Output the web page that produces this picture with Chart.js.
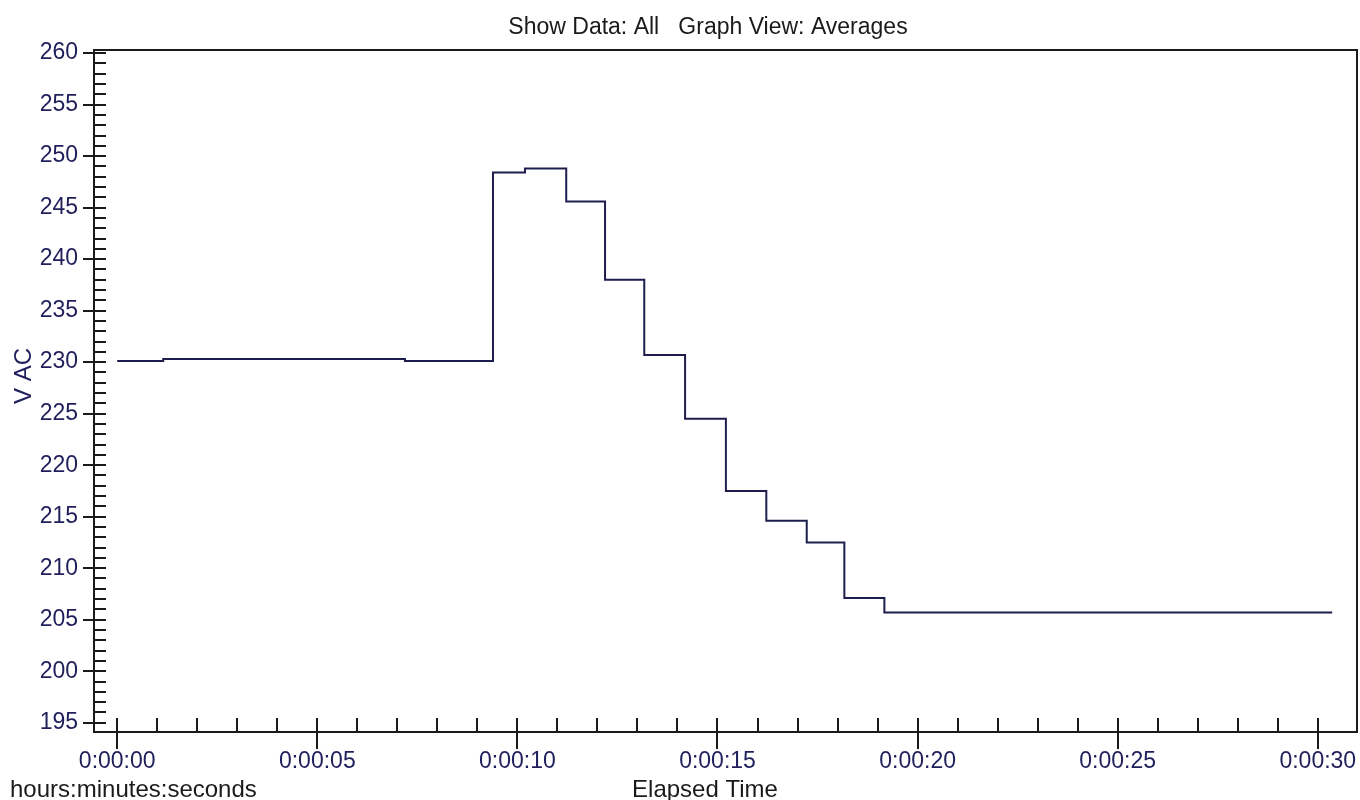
<!DOCTYPE html>
<html lang="en">
<head>
    <meta charset="UTF-8">
    <title>V AC - Averages</title>
    <script src="https://cdn.jsdelivr.net/npm/chart.js"></script>
    <style>
        body { margin: 0; background: #fff; }
        #wrap { width: 1360px; height: 800px; }
    </style>
</head>
<body>
    <div id="wrap"><canvas id="myChart"></canvas></div>

    <script>
        // step start times (seconds) and the averaged voltage held from that time on
        const stepTimes = [0, 1.15, 7.19, 9.39, 10.19, 11.22, 12.19, 13.17, 14.19, 15.21, 16.22, 17.23, 18.17, 19.17, 30.36];
        const vacAverages = [230.1, 230.3, 230.1, 248.4, 248.8, 245.6, 238.0, 230.7, 224.5, 217.5, 214.6, 212.5, 207.1, 205.7, 205.7];

        // axis ticks
        const xTickValues = [0, 5, 10, 15, 20, 25, 30];
        const xTickLabels = ['0:00:00', '0:00:05', '0:00:10', '0:00:15', '0:00:20', '0:00:25', '0:00:30'];
        const yTickValues = [195, 200, 205, 210, 215, 220, 225, 230, 235, 240, 245, 250, 255, 260];
        const yTickLabels = ['195', '200', '205', '210', '215', '220', '225', '230', '235', '240', '245', '250', '255', '260'];

        const titleText = 'Show Data: All   Graph View: Averages';
        const xTitle = 'Elapsed Time';
        const xUnits = 'hours:minutes:seconds';
        const yTitle = 'V AC';

        const FONT = '"Liberation Sans", Arial, sans-serif';
        const NAVY = '#1f1f5c';
        const INK = '#1a1a1a';

        // frame, minor/major tick marks and the free-standing texts
        const decor = {
            id: 'decor',
            afterDraw(chart) {
                const ctx = chart.ctx;
                const area = chart.chartArea;
                const xs = chart.scales.x;
                const ys = chart.scales.y;
                ctx.save();
                ctx.strokeStyle = INK;
                ctx.lineWidth = 2;
                ctx.strokeRect(area.left, area.top, area.right - area.left, area.bottom - area.top);

                ctx.beginPath();
                for (let s = 0; s <= 30; s++) {
                    const px = Math.round(xs.getPixelForValue(s));
                    const major = s % 5 === 0;
                    ctx.moveTo(px, area.bottom - 14);
                    ctx.lineTo(px, major ? area.bottom + 17 : area.bottom);
                }
                for (let v = 195; v <= 260; v++) {
                    const py = Math.round(ys.getPixelForValue(v));
                    const major = v % 5 === 0;
                    ctx.moveTo(major ? area.left - 11 : area.left, py);
                    ctx.lineTo(area.left + 12, py);
                }
                ctx.stroke();

                ctx.textBaseline = 'alphabetic';
                ctx.fillStyle = INK;
                ctx.textAlign = 'center';
                ctx.font = '23px ' + FONT;
                ctx.fillText(titleText, 708, 34);
                ctx.font = '24px ' + FONT;
                ctx.fillText(xTitle, 705, 797);
                ctx.textAlign = 'left';
                ctx.fillText(xUnits, 10, 797);

                ctx.fillStyle = NAVY;
                ctx.translate(31, 376);
                ctx.rotate(-Math.PI / 2);
                ctx.textAlign = 'center';
                ctx.fillText(yTitle, 0, 0);
                ctx.restore();
            }
        };

        const ctx = document.getElementById('myChart').getContext('2d');
        new Chart(ctx, {
            type: 'line',
            data: {
                datasets: [{
                    label: 'V AC',
                    data: stepTimes.map((t, i) => ({ x: t, y: vacAverages[i] })),
                    borderColor: '#1e1e4e',
                    borderWidth: 2,
                    pointRadius: 0,
                    stepped: true,
                    fill: false
                }]
            },
            options: {
                responsive: true,
                maintainAspectRatio: false,
                animation: false,
                layout: { padding: { top: 50, right: 3, left: 0, bottom: 0 } },
                plugins: {
                    legend: { display: false },
                    tooltip: { enabled: false }
                },
                scales: {
                    x: {
                        type: 'linear',
                        min: -0.58,
                        max: 30.98,
                        grid: { display: false, drawTicks: false },
                        border: { display: false },
                        afterBuildTicks: axis => { axis.ticks = xTickValues.map(v => ({ value: v })); },
                        afterFit: axis => { axis.height = 68; axis.paddingLeft = 0; axis.paddingRight = 0; },
                        ticks: {
                            autoSkip: false,
                            maxRotation: 0,
                            padding: 16,
                            color: NAVY,
                            font: { family: FONT, size: 23 },
                            callback: (v, i) => xTickLabels[i]
                        }
                    },
                    y: {
                        min: 194.1,
                        max: 260.3,
                        grid: { display: false, drawTicks: false },
                        border: { display: false },
                        afterBuildTicks: axis => { axis.ticks = yTickValues.map(v => ({ value: v })); },
                        afterFit: axis => { axis.width = 94; axis.paddingTop = 0; axis.paddingBottom = 0; },
                        ticks: {
                            autoSkip: false,
                            padding: 16,
                            color: NAVY,
                            font: { family: FONT, size: 23 },
                            callback: (v, i) => yTickLabels[i]
                        }
                    }
                }
            },
            plugins: [decor]
        });
    </script>
</body>
</html>
